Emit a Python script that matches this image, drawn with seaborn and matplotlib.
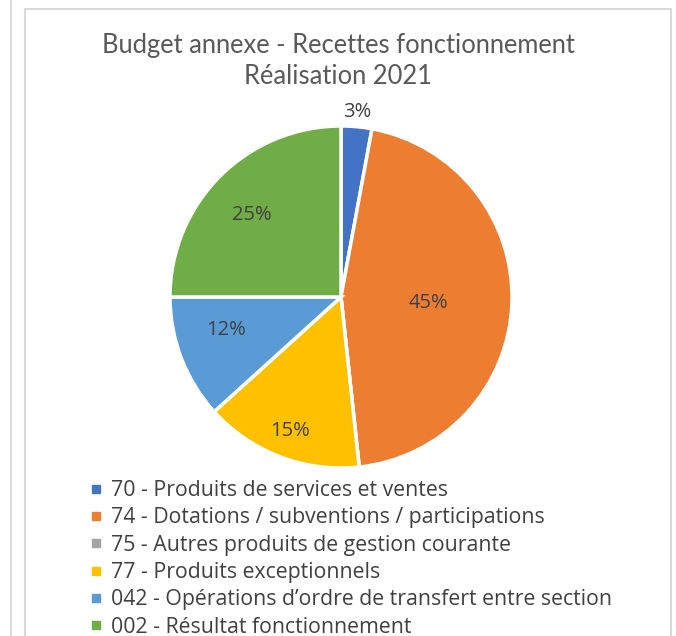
import matplotlib
matplotlib.use("Agg")
import matplotlib.pyplot as plt
import seaborn as sns
import numpy as np
from matplotlib.lines import Line2D
from matplotlib.patches import Rectangle

sns.set_theme(style="white")

categories = [
    "70 - Produits de services et ventes",
    "74 - Dotations / subventions / participations",
    "75 - Autres produits de gestion courante",
    "77 - Produits exceptionnels",
    "042 - Opérations d\u2019ordre de transfert entre section",
    "002 - Résultat fonctionnement",
]
values = [2.9, 45.4, 0.0, 15.0, 11.7, 25.0]
colors = ["#4472C4", "#ED7D31", "#A5A5A5", "#FFC000", "#5B9BD5", "#70AD47"]
# data-label placement (Excel "best fit"), in pie-radius units
label_pos = [(0.094, 1.082), (0.509, -0.035), None,
             (-0.298, -0.784), (-0.673, -0.193), (-0.520, 0.480)]

title_lines = ["Budget annexe - Recettes fonctionnement", "Réalisation 2021"]

W, H = 676, 636
fig = plt.figure(figsize=(W / 100, H / 100), dpi=100)
fig.patch.set_facecolor("white")

# frames
fig.add_artist(Line2D([11 / W, 11 / W], [0, 1], color="#D9D9D9", lw=1.5))
fig.add_artist(Rectangle((25 / W, -0.05), (671 - 25) / W, 1.05 - 9 / H,
                         fill=False, edgecolor="#D9D9D9", lw=1.5))

cx, cy, r = 341, 297, 171
ax = fig.add_axes([(cx - r) / W, (H - cy - r) / H, 2 * r / W, 2 * r / H])

wedges, _ = ax.pie(values, colors=colors, startangle=90, counterclock=False,
                   radius=1.0, wedgeprops=dict(edgecolor="white", linewidth=2.5))
ax.set_xlim(-1, 1)
ax.set_ylim(-1, 1)
ax.set_aspect("equal")
ax.axis("off")

total = sum(values)
for v, pos in zip(values, label_pos):
    if pos is None or v == 0:
        continue
    ax.text(pos[0], pos[1], f"{round(v / total * 100)}%",
            ha="center", va="center", fontsize=14.5, color="#404040",
            family="Open Sans", clip_on=False)

fig.text(0.5, 1 - 46 / H, title_lines[0], ha="center", va="center",
         fontsize=18.4, color="#595959", family="Lato")
fig.text(0.5, 1 - 76 / H, title_lines[1], ha="center", va="center",
         fontsize=18.4, color="#595959", family="Lato")

handles = [Line2D([], [], marker="s", linestyle="none", markersize=6,
                  markerfacecolor=c, markeredgecolor=c) for c in colors]
leg = fig.legend(handles, categories, loc="upper left",
                 bbox_to_anchor=(90 / W, 1 - 480 / H), frameon=False,
                 prop=dict(family="Open Sans", size=15.3),
                 labelcolor="#404040", handlelength=0.6, handletextpad=0.4,
                 labelspacing=0.3, borderaxespad=0, borderpad=0)

fig.savefig("out.png", dpi=100, facecolor="white")
